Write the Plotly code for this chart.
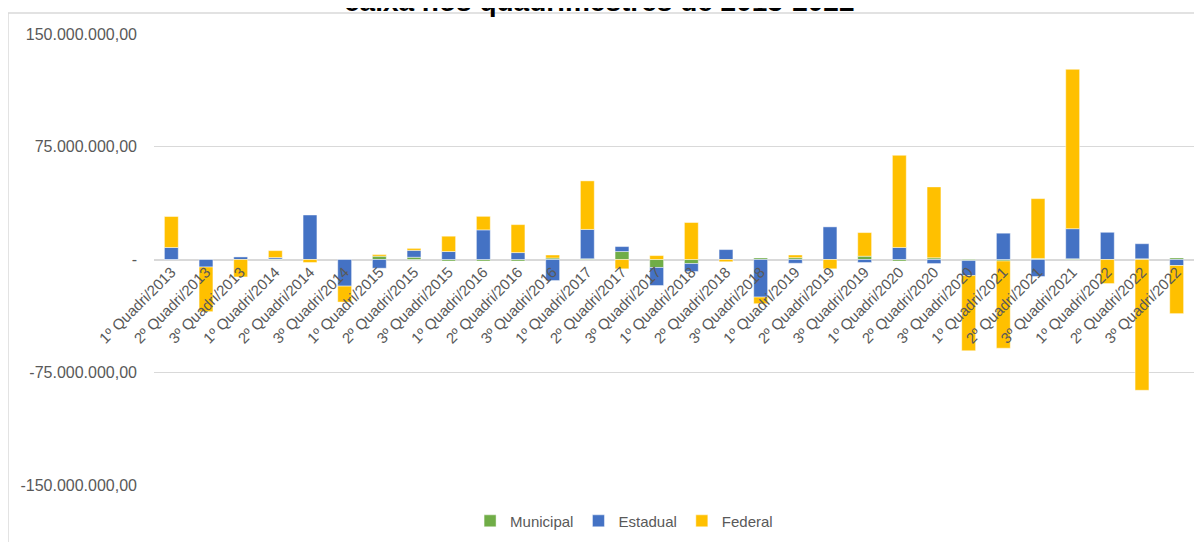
import plotly.graph_objects as go

# quadrimestres
categorias = [
    "1º Quadri/2013", "2º Quadri/2013", "3º Quadri/2013",
    "1º Quadri/2014", "2º Quadri/2014", "3º Quadri/2014",
    "1º Quadri/2015", "2º Quadri/2015", "3º Quadri/2015",
    "1º Quadri/2016", "2º Quadri/2016", "3º Quadri/2016",
    "1º Quadri/2017", "2º Quadri/2017", "3º Quadri/2017",
    "1º Quadri/2018", "2º Quadri/2018", "3º Quadri/2018",
    "1º Quadri/2019", "2º Quadri/2019", "3º Quadri/2019",
    "1º Quadri/2020", "2º Quadri/2020", "3º Quadri/2020",
    "1º Quadri/2021", "2º Quadri/2021", "3º Quadri/2021",
    "1º Quadri/2022", "2º Quadri/2022", "3º Quadri/2022",
]

# valores em milhões de R$
municipal = [0, 0, 0, 0.3, 0, 0, 2.2, 1.5, -1, -1, -1, 1, 0.5, 5.3, -5.3,
             -2.7, 0, 1, 1.2, 0, 2.2, -1, 1.1, -0.7, -1, 0.7, 0.5, 0, 0.5, 1]
estadual = [8, -5, 1.7, 1, 29.6, -17.7, -5.8, 4.6, 5.3, 19.7, 4.6, -14, 19.5, 3.3, -12,
            -5.3, 6.6, -25, -2.5, 21.7, -2, 8, -2.7, -10, 17.5, -11.3, 20, 18.1, 10, -4]
federal = [20.6, -29.7, -11.6, 4.6, -2, -10.6, 1.1, 1.3, 10.2, 9, 18.6, 2, 32.3, -6.2, 2.6,
           24.6, -1.5, -4.4, 1.8, -6.2, 15.7, 61.3, 47.2, -50, -58, 39.8, 106, -16, -87, -32]

tick_vals = [-150e6, -75e6, 0, 75e6, 150e6]
tick_text = ["-150.000.000,00", "-75.000.000,00", "-", "75.000.000,00", "150.000.000,00"]

cinza = "#595959"
contorno = dict(color="rgba(255,255,255,0.45)", width=1)

fig = go.Figure()
fig.add_trace(go.Bar(x=categorias, y=[v * 1e6 for v in municipal], name="Municipal",
                     marker=dict(color="#70AD47", line=contorno)))
fig.add_trace(go.Bar(x=categorias, y=[v * 1e6 for v in estadual], name="Estadual",
                     marker=dict(color="#4472C4", line=contorno)))
fig.add_trace(go.Bar(x=categorias, y=[v * 1e6 for v in federal], name="Federal",
                     marker=dict(color="#FFC000", line=contorno)))

# a página tem 8px de margem no body, então as margens já descontam isso
fig.update_layout(
    width=1202, height=542,
    barmode="relative", bargap=0.6,
    paper_bgcolor="white", plot_bgcolor="white",
    margin=dict(l=146, r=16, t=26, b=65, autoexpand=False),
    font=dict(family="Liberation Sans", color=cinza),
    showlegend=True,
    legend=dict(orientation="h", x=0.452, xanchor="center", y=-0.080, yanchor="middle",
                font=dict(size=15, color=cinza), itemwidth=30, traceorder="normal"),
    xaxis=dict(anchor="free", position=0.5, tickangle=-45, showgrid=False,
               showline=False, ticks="", automargin=False,
               tickfont=dict(size=15, color=cinza)),
    yaxis=dict(range=[-150e6, 150e6], tickvals=tick_vals, ticktext=tick_text,
               showgrid=True, gridcolor="#D9D9D9", gridwidth=1, automargin=False,
               zeroline=True, zerolinecolor="#D9D9D9", zerolinewidth=1.5,
               ticklabelstandoff=16, tickfont=dict(size=16, color=cinza)),
    annotations=[dict(text="<b>caixa nos quadrimestres de 2013-2022</b>",
                      xref="paper", yref="paper", x=0.428, y=1.033, xanchor="center",
                      yanchor="bottom", showarrow=False,
                      font=dict(family="Liberation Sans", size=28, color="black"))],
    shapes=[
        dict(type="line", xref="paper", yref="paper", x0=-0.1404, x1=1.02, y0=1.0466, y1=1.0466,
             line=dict(color="#D9D9D9", width=1.5), layer="below"),
        dict(type="line", xref="paper", yref="paper", x0=-0.1404, x1=-0.1404, y0=1.0466, y1=-0.15,
             line=dict(color="#D9D9D9", width=1.5), layer="below"),
    ],
)

fig.write_html("out.html")
